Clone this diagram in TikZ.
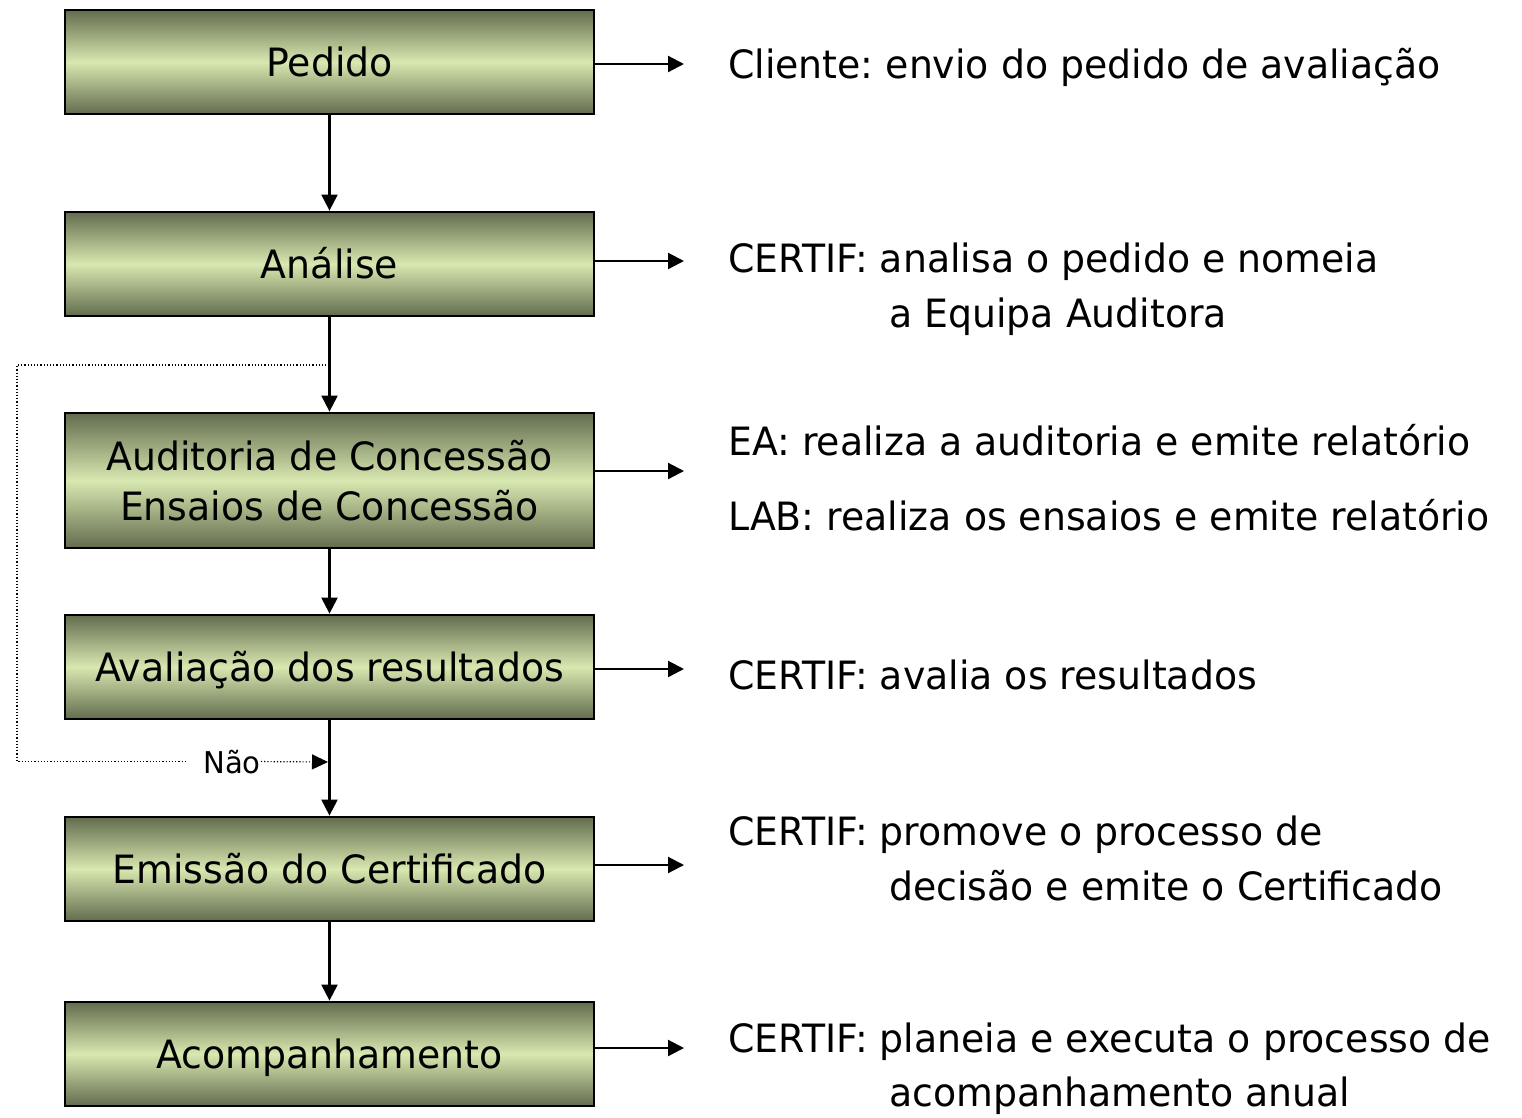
\documentclass[tikz,border=0pt]{standalone}
\usepackage{fontspec}
\setmainfont[FakeStretch=0.97]{DejaVu Sans}
\usetikzlibrary{arrows.meta}
\definecolor{boxdark}{RGB}{98,108,78}
\definecolor{boxlight}{RGB}{216,232,176}
\tikzset{
  x=1pt, y=-1pt,
  stepbox/.style={draw=black, line width=2.8pt, minimum width=529pt, minimum height=104pt,
    inner sep=0pt, top color=boxdark, bottom color=boxdark, middle color=boxlight,
    font=\fontsize{39}{50}\selectfont, align=center},
  oneline/.style={text height=29pt, text depth=0pt},
  desc/.style={anchor=base west, inner sep=0pt, font=\fontsize{39}{50}\selectfont},
  arr/.style={line width=2.2pt, -{Triangle[length=16pt,width=16pt]}},
  loopline/.style={line width=1.2pt, dotted},
  looparr/.style={line width=1.2pt, dotted, -{Triangle[length=16pt,width=15pt]}},
}
\begin{document}
\frenchspacing
\begin{tikzpicture}
\useasboundingbox (0,0) rectangle (1522,1117);
% boxes
\node[stepbox, oneline] (b1) at (329.5,62) {Pedido};
\node[stepbox, oneline] (b2) at (329.5,264) {Análise};
\node[stepbox, minimum height=135pt] (b3) at (329.5,480.5) {Auditoria de Concessão\\Ensaios de Concessão};
\node[stepbox, oneline] (b4) at (329.5,667) {Avaliação dos resultados};
\node[stepbox, oneline] (b5) at (329.5,869) {Emissão do Certificado};
\node[stepbox, oneline] (b6) at (329.5,1054) {Acompanhamento};
% vertical arrows
\draw[arr] (b1.south) -- (b2.north);
\draw[arr] (b2.south) -- (b3.north);
\draw[arr] (b3.south) -- (b4.north);
\draw[arr] (b4.south) -- (b5.north);
\draw[arr] (b5.south) -- (b6.north);
% right arrows
\coordinate (e1) at (684,64);
\coordinate (e2) at (684,261);
\coordinate (e3) at (684,471);
\coordinate (e4) at (684,669);
\coordinate (e5) at (684,865);
\coordinate (e6) at (684,1048);
\draw[arr] (b1.east |- e1) -- (e1);
\draw[arr] (b2.east |- e2) -- (e2);
\draw[arr] (b3.east |- e3) -- (e3);
\draw[arr] (b4.east |- e4) -- (e4);
\draw[arr] (b5.east |- e5) -- (e5);
\draw[arr] (b6.east |- e6) -- (e6);
% descriptions
\node[desc] (t1) at (728,78) {Cliente: envio do pedido de avaliação};
\node[desc] (t2a) at (728,272) {CERTIF: analisa o pedido e nomeia};
\node[desc] (t2b) at (889,327) {a Equipa Auditora};
\node[desc] (t3a) at (728,455) {EA: realiza a auditoria e emite relatório};
\node[desc] (t3b) at (728,530) {LAB: realiza os ensaios e emite relatório};
\node[desc] (t4) at (728,689) {CERTIF: avalia os resultados};
\node[desc] (t5a) at (728,845) {CERTIF: promove o processo de};
\node[desc] (t5b) at (889,900) {decisão e emite o Certificado};
\node[desc] (t6a) at (728,1052) {CERTIF: planeia e executa o processo de};
\node[desc] (t6b) at (889,1106) {acompanhamento anual};
% loop back (Não)
\coordinate (lp) at (329.5,365);
\coordinate (lc) at (17,365);
\coordinate (nj) at (328,762);
\node[inner sep=0pt, font=\fontsize{30}{34}\selectfont, anchor=base] (nao) at (232,773) {Não};
\draw[loopline] (lp) -- (lc) |- ([xshift=-18pt]nao.west);
\draw[looparr] (nao.east) -- (nj);
\end{tikzpicture}
\end{document}
